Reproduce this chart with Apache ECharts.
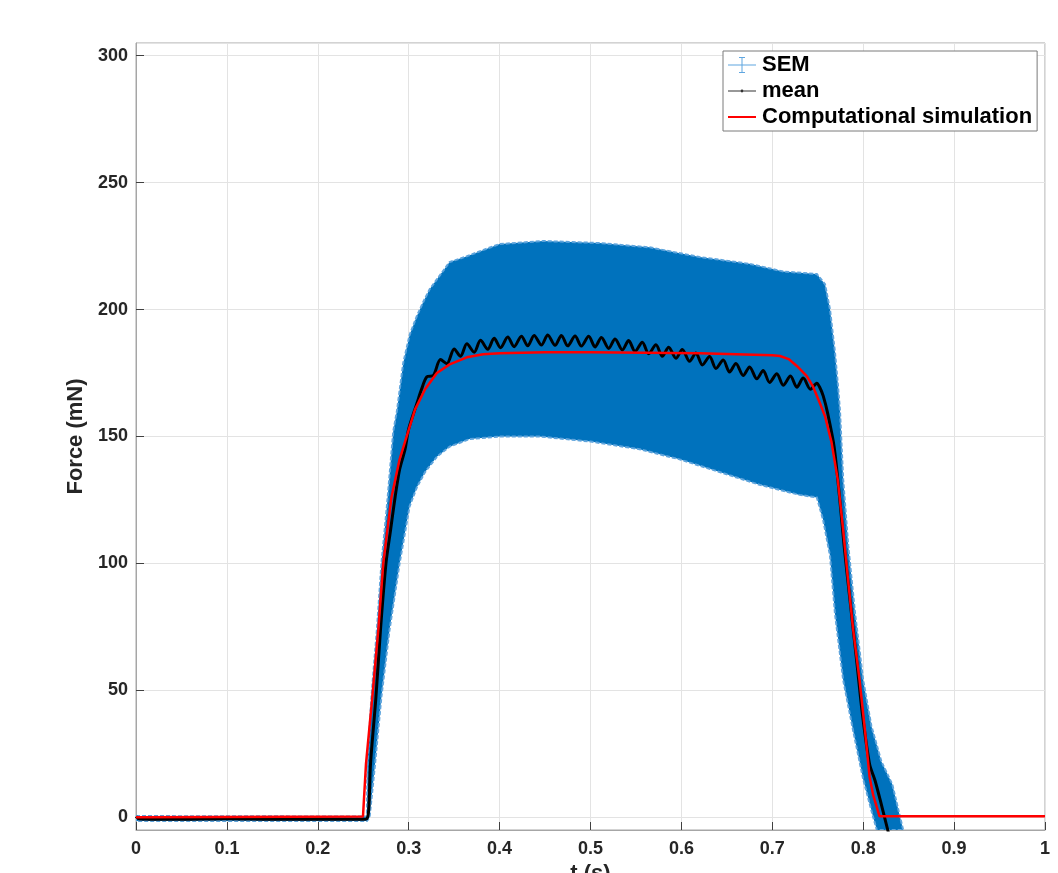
<!DOCTYPE html>
<html>
<head>
<meta charset="utf-8">
<title>Force vs time</title>
<script src="https://cdn.jsdelivr.net/npm/echarts@6/dist/echarts.min.js"></script>
<style>
  html, body { margin: 0; padding: 0; background: #ffffff; }
  #chart { width: 1058px; height: 873px; }
</style>
</head>
<body>
<div id="chart"></div>
<script>
// SEM envelope, [t (s), force (mN)]
var semUpper = [
  [0, 0.5], [0.254, 0.3], [0.2545, 21], [0.259, 47.5], [0.265, 74], [0.270, 100],
  [0.276, 122.5], [0.283, 152], [0.287, 160], [0.294, 179], [0.301, 190], [0.309, 197.5],
  [0.316, 203], [0.323, 208], [0.345, 218.7], [0.364, 221], [0.386, 224], [0.400, 225.8],
  [0.448, 227], [0.510, 226.2], [0.565, 224.5], [0.620, 220.7], [0.675, 218], [0.712, 215],
  [0.749, 214], [0.758, 210], [0.7635, 200], [0.769, 183], [0.7723, 170], [0.7745, 160],
  [0.778, 133], [0.7836, 107], [0.791, 80.6], [0.800, 54], [0.809, 36], [0.820, 22],
  [0.832, 13], [0.838, 4], [0.844, -5]
];
var semLower = [
  [0, -1.5], [0.254, -1.5], [0.257, 0], [0.263, 21], [0.270, 47.5], [0.279, 74],
  [0.290, 100], [0.301, 122.5], [0.309, 130], [0.318, 136], [0.331, 142], [0.345, 146],
  [0.367, 149], [0.400, 150], [0.444, 150], [0.500, 148], [0.554, 145], [0.598, 141],
  [0.642, 136], [0.686, 131], [0.730, 127], [0.749, 126], [0.756, 117], [0.7635, 103],
  [0.769, 80], [0.778, 54], [0.789, 34], [0.800, 15], [0.811, 0], [0.815, -5]
];
// mean force
var meanData = [
  [0, 0.3], [0.004, -0.7], [0.05, -0.8], [0.10, -0.6], [0.15, -0.8], [0.20, -0.7],
  [0.25, -0.8], [0.254, -0.6], [0.256, 3], [0.258, 21], [0.264, 47.5], [0.269, 74],
  [0.275, 100], [0.280, 113], [0.285, 126], [0.290, 137], [0.296, 145], [0.300, 153],
  [0.309, 163], [0.314, 168.5],
  [0.320, 173.5], [0.327, 174.0], [0.335, 180.3], [0.342, 178.7], [0.350, 184.5], [0.357, 181.6],
  [0.364, 186.5], [0.372, 183.2], [0.379, 187.9], [0.387, 184.4], [0.394, 188.7], [0.401, 185.0],
  [0.409, 189.2], [0.416, 185.4], [0.424, 189.5], [0.431, 185.7], [0.438, 189.8], [0.446, 186.0],
  [0.453, 190.0], [0.461, 185.9], [0.468, 189.8], [0.475, 185.7], [0.483, 189.6], [0.490, 185.6],
  [0.498, 189.5], [0.505, 185.3], [0.512, 189.0], [0.520, 184.7], [0.527, 188.4], [0.535, 184.1],
  [0.542, 187.8], [0.549, 183.5], [0.557, 187.1], [0.564, 182.6], [0.572, 186.1], [0.579, 181.6],
  [0.586, 185.2], [0.594, 180.8], [0.601, 184.3], [0.609, 179.6], [0.616, 182.9], [0.623, 178.2],
  [0.631, 181.5], [0.638, 176.8], [0.646, 180.1], [0.653, 175.4], [0.660, 178.8], [0.668, 174.0],
  [0.675, 177.4], [0.683, 172.7], [0.690, 176.0], [0.697, 171.3], [0.705, 174.7], [0.712, 170.2],
  [0.720, 173.8], [0.727, 169.4], [0.734, 173.0], [0.742, 168.6], [0.749, 171.0],
  [0.752, 169.5], [0.756, 166], [0.761, 159], [0.768, 146], [0.774, 126], [0.779, 107],
  [0.785, 87], [0.793, 61], [0.799, 41], [0.807, 21], [0.813, 14.5], [0.820, 5],
  [0.827, -5], [0.830, -9]
];
// computational simulation
var simData = [
  [0, 0], [0.2497, 0.3], [0.253, 21], [0.260, 47.5], [0.2666, 74], [0.272, 100],
  [0.281, 126], [0.290, 141], [0.296, 148], [0.307, 160.7], [0.318, 168.6], [0.331, 175],
  [0.345, 178.4], [0.364, 181.2], [0.382, 182.4], [0.400, 182.8], [0.450, 183.2], [0.500, 183.2],
  [0.560, 183], [0.620, 182.8], [0.660, 182.4], [0.700, 182], [0.7085, 181.7], [0.718, 180.5],
  [0.727, 177.8], [0.738, 173.8], [0.745, 169.5], [0.7525, 163], [0.758, 158], [0.765, 148],
  [0.772, 133], [0.778, 113], [0.7833, 93.6], [0.789, 73.8], [0.796, 54], [0.802, 34],
  [0.807, 16], [0.811, 8.7], [0.818, 0.4], [1, 0.4]
];
var legendNames = ['SEM', 'mean', 'Computational simulation'];

var FONT = '"Liberation Sans", Arial, Helvetica, sans-serif';
var chart = echarts.init(document.getElementById('chart'), null, {renderer: 'canvas'});

var option = {
  backgroundColor: '#ffffff',
  animation: false,
  grid: {
    left: 136, right: 13, top: 43, bottom: 43,
    show: true, borderColor: '#a6a6a6', borderWidth: 1,
    outerBoundsMode: 'none'
  },
  xAxis: {
    type: 'value', min: 0, max: 1, interval: 0.1,
    name: 't (s)', nameLocation: 'middle', nameGap: 30,
    nameTextStyle: {fontSize: 22, fontWeight: 'bold', color: '#262626', fontFamily: FONT},
    axisLine: {show: true, onZero: false, lineStyle: {color: '#a6a6a6', width: 1}},
    axisTick: {show: true, inside: true, length: 8, lineStyle: {color: '#404040'}},
    axisLabel: {fontSize: 18, fontWeight: 'bold', color: '#262626', fontFamily: FONT, margin: 10},
    splitLine: {show: true, lineStyle: {color: '#e3e3e3', width: 1}}
  },
  yAxis: {
    type: 'value', min: -5, max: 305, splitNumber: 6,
    name: 'Force (mN)', nameLocation: 'middle', nameGap: 44,
    nameTextStyle: {fontSize: 22, fontWeight: 'bold', color: '#262626', fontFamily: FONT},
    axisLine: {show: true, onZero: false, lineStyle: {color: '#a6a6a6', width: 1}},
    axisTick: {show: true, inside: true, length: 8, lineStyle: {color: '#404040'}},
    axisLabel: {fontSize: 18, fontWeight: 'bold', color: '#262626', fontFamily: FONT, margin: 8,
      showMinLabel: false, showMaxLabel: false},
    splitLine: {show: true, lineStyle: {color: '#e3e3e3', width: 1}}
  },
  legend: {
    orient: 'vertical', left: 723, top: 51,
    padding: [1, 5, 1, 4], itemGap: 0, itemWidth: 30, itemHeight: 18,
    backgroundColor: '#ffffff', borderColor: '#7a7a7a', borderWidth: 1, borderRadius: 0,
    selectedMode: false,
    textStyle: {fontSize: 22, fontWeight: 'bold', color: '#000000', fontFamily: FONT, lineHeight: 26},
    data: [
      {name: legendNames[0],
       icon: 'path://M0,0M30,18M1,8.5h28v1h-28zM14.5,1h1v16h-1zM12,1h6v1h-6zM12,16h6v1h-6z',
       itemStyle: {color: '#5fa6e0'}},
      {name: legendNames[1],
       icon: 'path://M0,0M30,18M1,8.5h28v1h-28zM15,7.6a1.4,1.4 0 1,1 0,2.8a1.4,1.4 0 1,1 0,-2.8z',
       itemStyle: {color: '#333333'}},
      {name: legendNames[2],
       icon: 'path://M0,0M30,18M1,8h28v2h-28z',
       itemStyle: {color: '#ff0000'}}
    ]
  },
  series: [
    {
      name: legendNames[0],
      type: 'custom',
      clip: true,
      silent: true,
      itemStyle: {color: '#0072BD'},
      data: semUpper,
      renderItem: function (params, api) {
        if (params.dataIndex !== 0) return null;
        var pts = [];
        semUpper.forEach(function (p) { pts.push(api.coord(p)); });
        for (var i = semLower.length - 1; i >= 0; i--) pts.push(api.coord(semLower[i]));
        return {
          type: 'polygon',
          shape: {points: pts},
          style: {fill: '#0072BD', stroke: '#5ea4dc', lineWidth: 2, lineDash: [4, 2]}
        };
      }
    },
    {
      name: legendNames[1],
      type: 'line',
      data: meanData,
      showSymbol: false,
      smooth: 0.3,
      clip: true,
      color: '#000000',
      lineStyle: {color: '#000000', width: 3},
      z: 3
    },
    {
      name: legendNames[2],
      type: 'line',
      data: simData,
      showSymbol: false,
      clip: true,
      color: '#ff0000',
      lineStyle: {color: '#ff0000', width: 2.5},
      z: 4
    }
  ]
};
chart.setOption(option);
</script>
</body>
</html>
